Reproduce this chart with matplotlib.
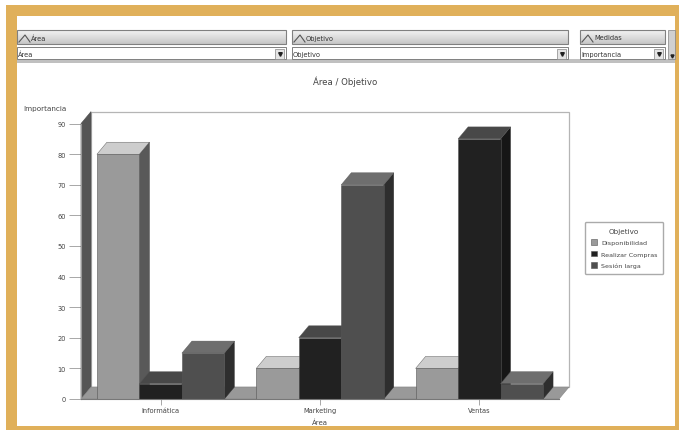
import numpy as np
import matplotlib
matplotlib.use("Agg")
import matplotlib.pyplot as plt
from matplotlib.patches import Polygon, Rectangle

areas = ["Informática", "Marketing", "Ventas"]
objetivos = ["Disponibilidad", "Realizar Compras", "Sesión larga"]
disponibilidad = [80, 10, 10]
realizar_compras = [5, 20, 85]
sesion_larga = [15, 70, 5]
y_ticks = [0, 10, 20, 30, 40, 50, 60, 70, 80, 90]

W, H = 679, 431
GOLD = "#e0b05a"
TXT = "#444444"

fig = plt.figure(figsize=(W / 100, H / 100), dpi=100, facecolor="white")

# page frame and the toolbar, in pixel coordinates
bg = fig.add_axes([0, 0, 1, 1], zorder=0)
bg.set_xlim(0, W)
bg.set_ylim(H, 0)
bg.axis("off")
bg.add_patch(Rectangle((6, 6), 673, 425, fc=GOLD, ec="none"))
bg.add_patch(Rectangle((17, 17), 658, 410, fc="white", ec="none"))


def selector(x0, x1, name, value):
    grad = np.linspace(0.95, 0.78, 20).reshape(-1, 1)
    bg.imshow(grad, extent=(x0, x1, 45, 31), cmap="gray", vmin=0, vmax=1,
              aspect="auto", zorder=1)
    bg.add_patch(Rectangle((x0, 31), x1 - x0, 14, fc="none", ec="#808080", lw=0.8, zorder=2))
    bg.plot([x0 + 2, x0 + 8, x0 + 13], [43, 36, 43], color="#555555", lw=0.8, zorder=3)
    bg.text(x0 + 14, 38.5, name, fontsize=4.8, color="#333333", va="center", zorder=3)
    bg.add_patch(Rectangle((x0, 48), x1 - x0, 12, fc="white", ec="#808080", lw=0.7, zorder=2))
    bg.add_patch(Rectangle((x1 - 11, 49.5), 9, 10, fc="#e4e4e4", ec="#888888", lw=0.5, zorder=3))
    bg.plot([x1 - 6.5], [54.5], marker="v", ms=2.6, color="#222222", zorder=4)
    bg.text(x0 + 1, 55, value, fontsize=4.8, color="#333333", va="center", zorder=3)


selector(17, 286, "Área", "Área")
selector(292, 568, "Objetivo", "Objetivo")
selector(580, 665, "Medidas", "Importancia")
bg.add_patch(Rectangle((17, 60), 658, 4, fc="#c0c0c0", ec="none"))
bg.add_patch(Rectangle((668, 31), 7, 29, fc="#d0d0d0", ec="#808080", lw=0.5))
bg.plot([672], [57], marker="v", ms=2.2, color="#222222")

bg.text(345, 82, "Área / Objetivo", fontsize=6.2, color=TXT, ha="center", va="center")
bg.text(45, 109, "Importancia", fontsize=5.2, color=TXT, ha="center", va="center")

# chart area: 3 groups across 478 px, y runs 0-90 over 275 px
left, right, y0, y90 = 81, 559, 400, 124.6
ax = fig.add_axes([left / W, 1 - y0 / H, (right - left) / W, (y0 - y90) / H], zorder=2)
ax.patch.set_alpha(0)
ax.set_xlim(-0.5, 2.5)
ax.set_ylim(0, 90)

dx = 10 * 3 / (right - left)
dy = 12 * 90 / (y0 - y90)
x_min, x_max = -0.5, 2.5
y_top = 90

# back wall, left wall and floor of the 3D box
ax.add_patch(Polygon([(x_min + dx, dy), (x_max + dx, dy), (x_max + dx, y_top + dy), (x_min + dx, y_top + dy)],
                     fc="white", ec="#b5b5b5", lw=0.9, clip_on=False, zorder=1))
ax.add_patch(Polygon([(x_min, 0), (x_min + dx, dy), (x_min + dx, y_top + dy), (x_min, y_top)],
                     fc="#555555", ec="#4d4d4d", lw=0.4, clip_on=False, zorder=2))
ax.add_patch(Polygon([(x_min, 0), (x_min + dx, dy), (x_max + dx, dy), (x_max, 0)],
                     fc="#999999", ec="#858585", lw=0.4, clip_on=False, zorder=2))

series = [disponibilidad, realizar_compras, sesion_larga]
fronts = ["#9a9a9a", "#212121", "#4f4f4f"]
tops = ["#cdcdcd", "#484848", "#6e6e6e"]
sides = ["#595959", "#161616", "#2e2e2e"]
width = 0.8 / 3
x = np.arange(len(areas))

z = 3
for g in range(len(areas)):
    for s, vals in enumerate(series):
        xl = x[g] + (s - 1.5) * width
        xr = xl + width
        v = vals[g]
        ax.add_patch(Polygon([(xr, 0), (xr + dx, dy), (xr + dx, v + dy), (xr, v)],
                             fc=sides[s], ec="#333333", lw=0.3, clip_on=False, zorder=z))
        ax.add_patch(Polygon([(xl, v), (xl + dx, v + dy), (xr + dx, v + dy), (xr, v)],
                             fc=tops[s], ec="#555555", lw=0.3, clip_on=False, zorder=z))
        ax.bar(xl, v, width, align="edge", color=fronts[s], edgecolor="#555555", linewidth=0.4,
               zorder=z + 1, clip_on=False, label=objetivos[s] if g == 0 else None)
        z += 2

for side in ["top", "right"]:
    ax.spines[side].set_visible(False)
ax.spines["left"].set_color("#999999")
ax.spines["bottom"].set_color("#777777")
ax.spines["left"].set_zorder(50)
ax.spines["bottom"].set_zorder(50)
ax.set_xticks(x)
ax.set_xticklabels(areas)
ax.set_yticks(y_ticks)
ax.tick_params(axis="y", length=9, width=0.6, color="#999999", labelsize=4.8, labelcolor=TXT, pad=2)
ax.tick_params(axis="x", length=4, width=0.6, color="#999999", labelsize=4.8, labelcolor=TXT, pad=2)
ax.set_xlabel("Área", fontsize=5, color=TXT, labelpad=3.5)

handles, labels = ax.get_legend_handles_labels()
leg = ax.legend(handles, labels, title="Objetivo", loc="upper left",
                bbox_to_anchor=(585, 223), bbox_transform=bg.transData,
                fontsize=4.6, title_fontsize=5.2, frameon=True, fancybox=True,
                edgecolor="#aaaaaa", facecolor="white", framealpha=1,
                handlelength=1, handleheight=1, handletextpad=0.6,
                labelspacing=0.85, borderpad=0.9, borderaxespad=0, labelcolor=TXT)
leg.get_title().set_color(TXT)
leg.set_zorder(60)

fig.savefig("out.png", dpi=100)
